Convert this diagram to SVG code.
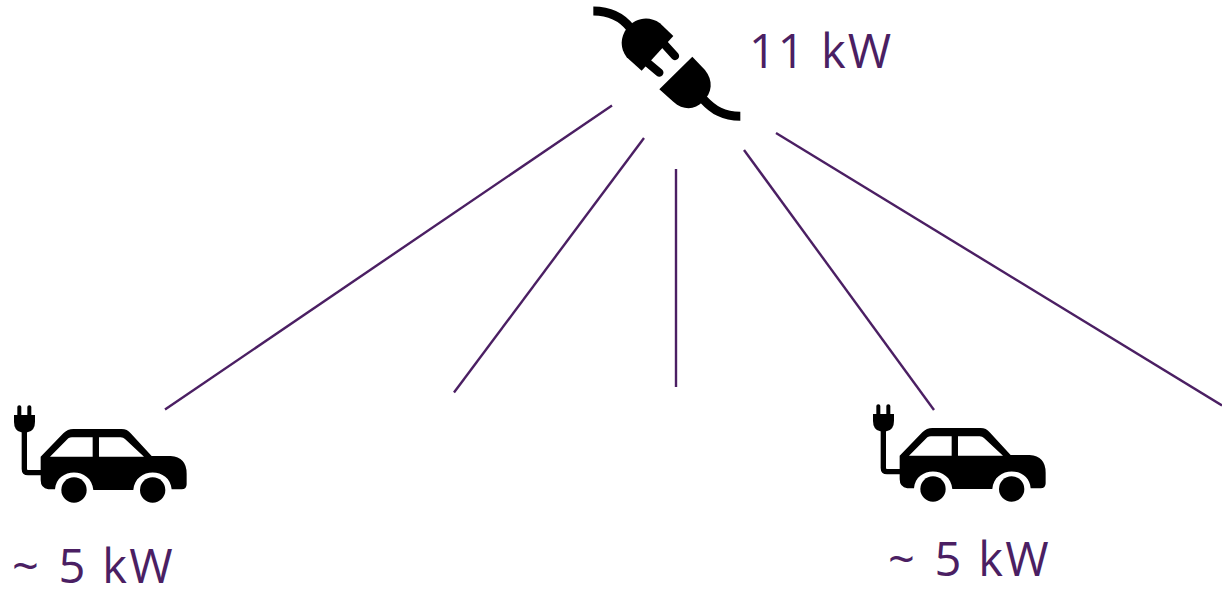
<svg xmlns="http://www.w3.org/2000/svg" width="1222" height="589" viewBox="0 0 1222 589">
<style>
.lbl{font-family:"Open Sans","Noto Sans",sans-serif;fill:#4b1f63}
.big{font-size:47px;letter-spacing:2.4px}
.conn{stroke:#4b1f63;stroke-width:2.4;fill:none}
</style>
<defs>
<g id="car">
<path d="M122 185L190 115Q203 102 220 102L365 102Q382 102 392 115L455 183L512 183Q560 186 560 236L560 268Q560 283 545 283L515 283C510 215 405 215 400 285L280 285C275 215 170 215 165 283L145 283Q122 280 122 255Z"/>
<path fill="#fff" d="M150 185L205 130Q210 127 216 127L278 127L278 185ZM297 127L362 127Q370 127 375 132L432 185L297 185Z"/>
<circle cx="222" cy="285" r="38"/><circle cx="458" cy="285" r="38"/>
<path d="M52 60V36Q52 31 58 31Q64 31 64 36V60ZM82 60V36Q82 31 88 31Q94 31 94 36V60Z"/>
<path d="M42 60H105V80Q105 108 82 112H64Q42 108 42 80Z"/>
<path d="M73 108V222Q73 233 84 233H125" fill="none" stroke="#000" stroke-width="16"/>
</g>
</defs>
<g id="connectors">
<line class="conn" x1="612" y1="105.500" x2="165" y2="409.500"/>
<line class="conn" x1="644" y1="138" x2="454" y2="392.500"/>
<line class="conn" x1="676" y1="169" x2="676" y2="387"/>
<line class="conn" x1="744" y1="150" x2="934" y2="410"/>
<line class="conn" x1="776" y1="133" x2="1222" y2="405.500"/>
</g>
<g id="plug" transform="translate(580 0) scale(.3333)">
<path d="M40 33C90 33 125 50 152 85" fill="none" stroke="#000" stroke-width="27"/>
<path d="M280 108L240 70C205 45 165 55 140 85C120 115 120 145 140 172L185 212Z"/>
<path d="M255 135L285 168M205 190L238 218" fill="none" stroke="#000" stroke-width="25" stroke-linecap="round"/>
<path d="M337 170L238 268L280 305C310 332 345 330 368 305C398 280 400 240 375 210Z"/>
<path d="M370 298C400 330 430 349 481 349" fill="none" stroke="#000" stroke-width="27"/>
</g>
<g id="label-source"><text class="lbl big" x="749" y="67.500" style="letter-spacing:2px">11 kW</text></g>
<g id="car-left" transform="translate(0 395) scale(.3333)"><use href="#car"/></g>
<g id="car-right" transform="translate(859 394) scale(.3333)"><use href="#car"/></g>
<g id="label-left"><text class="lbl big" x="12" y="583">~ <tspan dx="2.500">5 kW</tspan></text></g>
<g id="label-right"><text class="lbl big" x="888" y="576">~ <tspan dx="2.500">5 kW</tspan></text></g>
</svg>
